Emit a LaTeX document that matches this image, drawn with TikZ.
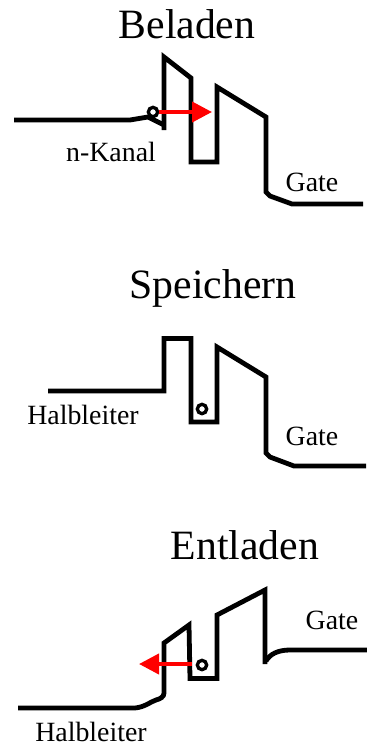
\documentclass[tikz,border=0pt]{standalone}
\usepackage{fontspec}
\setmainfont{Liberation Serif}
\usetikzlibrary{arrows.meta}
\tikzset{
  band/.style={
    draw, line width=3.6pt
  },
  elec/.style={
    draw, circle, minimum height=7pt, minimum width=7pt, inner sep=0mm, line width=2.5pt
  },
  flow/.style={
    draw=red, line width=3pt, -{Triangle[length=15pt,width=15pt,fill=red]}
  },
  ttl/.style={
    anchor=base, inner sep=0mm, font=\fontsize{31.3}{31.3}\selectfont
  },
  lab/.style={
    anchor=base, inner sep=0mm, font=\fontsize{20.9}{20.9}\selectfont
  }
}

\begin{document}
\begin{tikzpicture}[x=0.75pt,y=-0.75pt]
   \useasboundingbox (0,0) rectangle (367,747);

   % Beladen
   \node[ttl] (tbel) at (187,38.5) {Beladen};
   \node[lab] (kanal) at (111,161) {n-Kanal};
   \node[lab] (gbel) at (312,191.5) {Gate};
   \draw[band] (14,120) -- (130,120) -- (148,117) -- (164,125);
   \draw[band] (164,130) -- (164,57) -- (191,78) -- (191,162) -- (217,162)
      -- (217,87) -- (266,117) -- (266,192) -- (270,196) -- (292,204) -- (363,204);
   \node[elec] (ebel) at (153,112) {};
   \coordinate (fbel) at (212,112);
   \draw[flow] (ebel) -- (fbel);

   % Speichern
   \node[ttl] (tspe) at (213,298.5) {Speichern};
   \node[lab] (hspe) at (83,424) {Halbleiter};
   \node[lab] (gspe) at (312,445) {Gate};
   \draw[band] (48,391) -- (164,391) -- (164,338.5) -- (191,338.5) -- (191,422) -- (217,422)
      -- (217,347) -- (266,377) -- (266,453) -- (270,457) -- (294,466) -- (366,466);
   \node[elec] (espe) at (202,409) {};

   % Entladen
   \node[ttl] (tent) at (245,559.5) {Entladen};
   \node[lab] (gent) at (332,629.5) {Gate};
   \node[lab] (hent) at (91,741) {Halbleiter};
   \draw[band] (18,708) -- (135,708) .. controls (145,707) and (150,702) .. (156,700)
      .. controls (160,699) and (164,697) .. (164,693) -- (164,643) -- (189,625) -- (190,678.5)
      -- (217,678.5) -- (217,615) -- (265,590) -- (265,664);
   \draw[band] (266,661) .. controls (270,654) and (278,650) .. (290,650) -- (367,650);
   \node[elec] (eent) at (202,665) {};
   \coordinate (sent) at (192,664);
   \coordinate (fent) at (139,664);
   \draw[flow] (sent) -- (fent);
\end{tikzpicture}
\end{document}
